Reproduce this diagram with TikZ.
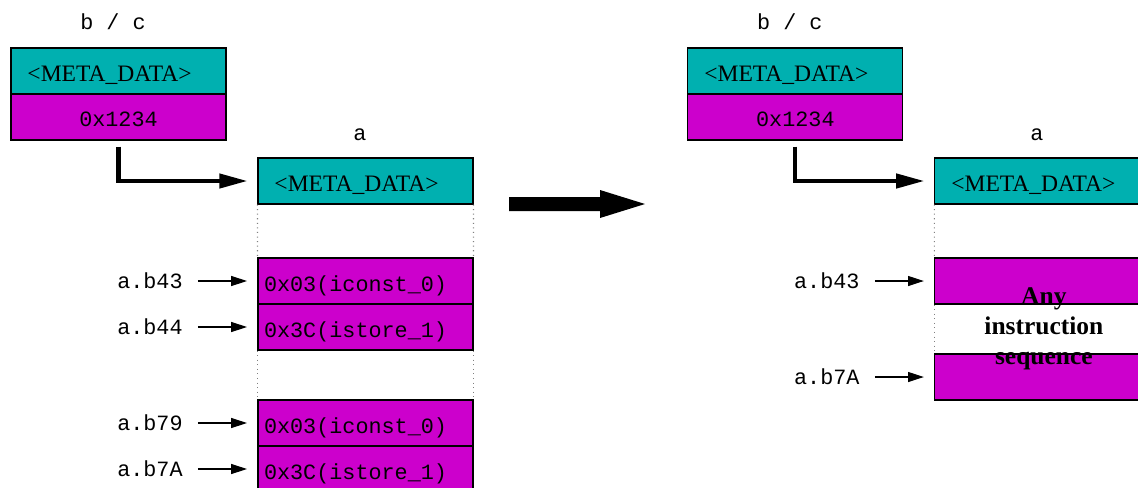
\documentclass[tikz,border=0pt]{standalone}
\usepackage{fontspec}
\setmainfont{Liberation Serif}
\setmonofont{Liberation Mono}
\usetikzlibrary{arrows.meta}
\definecolor{metateal}{RGB}{0,176,176}
\definecolor{codemag}{RGB}{204,0,204}

\begin{document}
\begin{tikzpicture}[x=0.02cm,y=-0.02cm,
    lbl/.style={font=\fontsize{12.4}{14}\ttfamily,inner sep=0pt},
    meta/.style={draw,line width=0.6pt,fill=metateal,minimum width=4.3cm,minimum height=0.92cm,inner sep=0pt,text height=0.5cm,text depth=0.09cm,font=\fontsize{13.4}{15}\selectfont},
    val/.style={meta,fill=codemag,text height=0.46cm,text depth=0.1cm,font=\fontsize{12.4}{14}\ttfamily},
    code/.style={draw,line width=0.6pt,fill=codemag,text width=4.06cm,inner xsep=0.12cm,inner ysep=0pt,minimum height=0.92cm,text height=0.5cm,text depth=0.1cm,align=left,font=\fontsize{12.4}{14}\ttfamily},
    gap/.style={gray,dotted,line width=0.6pt},
    ptr/.style={-{Triangle[length=9pt,width=5.7pt]},line width=0.6pt,shorten <=8.5pt,shorten >=6pt},
    link/.style={-{Triangle[length=16pt,width=8pt]},line width=2.3pt,shorten <=3.4pt,shorten >=5.7pt}]
    \useasboundingbox (0,0) rectangle (1138,487);
    \clip (0,0) rectangle (1138,487);
    % before: original bytecode
    \begin{scope}
      \node[lbl] (bc) at (113,22) {b / c};
      \node[meta] (bcmeta) at (118.5,71) {<META\_DATA>\kern0.36cm};
      \node[val] (bcval) at (118.5,117) {0x1234};
      \node[lbl] (a) at (360,135) {a};
      \node[meta] (ameta) at (365.5,181) {<META\_DATA>\kern0.36cm};
      \node[code] (b43) at (365.5,281) {0x03(iconst\_0)};
      \node[code] (b44) at (365.5,327) {0x3C(istore\_1)};
      \node[code] (b79) at (365.5,423) {0x03(iconst\_0)};
      \node[code] (b7a) at (365.5,469) {0x3C(istore\_1)};
      \draw[gap] (ameta.south west) -- (b43.north west);
      \draw[gap] (ameta.south east) -- (b43.north east);
      \draw[gap] (b44.south west) -- (b79.north west);
      \draw[gap] (b44.south east) -- (b79.north east);
      \draw[link] (bcval.south) |- (ameta.west);
      \foreach \nm/\txt in {b43/a.b43,b44/a.b44,b79/a.b79,b7a/a.b7A}
        {\node[lbl,anchor=east] (l\nm) at (183,0 |- \nm) {\txt};
         \draw[ptr] (l\nm.east) -- (\nm.west);}
    \end{scope}
    % transformation
    \fill (509,197) -- (600,197) -- (600,190) -- (645,204) -- (600,218) -- (600,211) -- (509,211) -- cycle;
    % after: sequence replaced
    \begin{scope}[xshift=13.54cm]
      \node[lbl] (bc2) at (113,22) {b / c};
      \node[meta] (bc2meta) at (118.5,71) {<META\_DATA>\kern0.36cm};
      \node[val] (bc2val) at (118.5,117) {0x1234};
      \node[lbl] (a2) at (360,135) {a};
      \node[meta] (a2meta) at (365.5,181) {<META\_DATA>\kern0.36cm};
      \node[code] (r43) at (365.5,281) {};
      \node[code] (r7a) at (365.5,377) {};
      \draw[gap] (a2meta.south west) -- (r43.north west);
      \draw[gap] (a2meta.south east) -- (r43.north east);
      \draw[gap] (r43.south west) -- (r7a.north west);
      \draw[gap] (r43.south east) -- (r7a.north east);
      \draw[link] (bc2val.south) |- (a2meta.west);
      \node[lbl,anchor=east] (lr43) at (183,0 |- r43) {a.b43};
      \node[lbl,anchor=east] (lr7a) at (183,0 |- r7a) {a.b7A};
      \draw[ptr] (lr43.east) -- (r43.west);
      \draw[ptr] (lr7a.east) -- (r7a.west);
      \node[font=\fontsize{14.5}{17}\selectfont\bfseries,align=center,inner sep=0pt] (anyseq) at (367,329) {Any\\instruction\\sequence};
    \end{scope}
\end{tikzpicture}
\end{document}
